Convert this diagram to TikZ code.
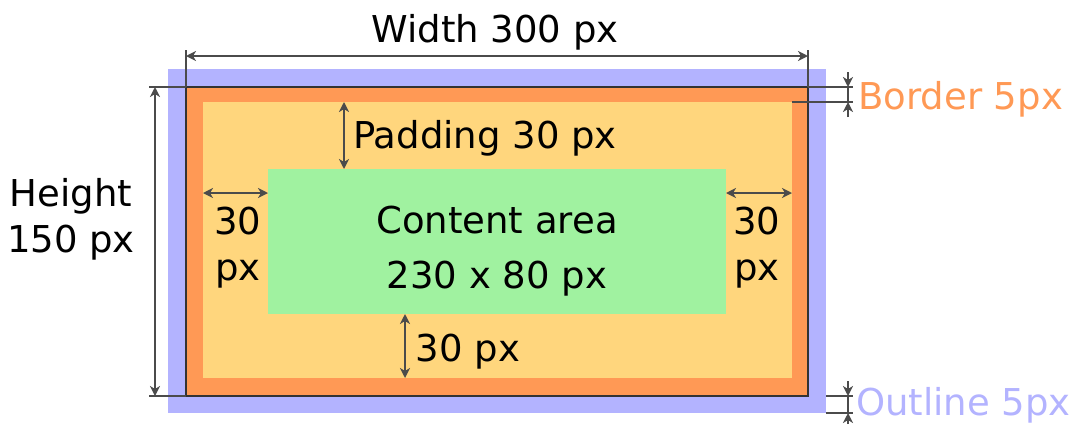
\documentclass[tikz,border=0pt]{standalone}
\usepackage{fontspec}
\setmainfont{DejaVu Sans}
\usetikzlibrary{arrows.meta}

\definecolor{outlineblue}{RGB}{179,179,255}
\definecolor{borderorange}{RGB}{255,153,85}
\definecolor{paddingyellow}{RGB}{255,214,125}
\definecolor{contentgreen}{RGB}{160,242,160}
\definecolor{dimgray}{RGB}{75,75,75}

\tikzset{
  boxarea/.style={draw=none, inner sep=0pt, outer sep=0pt},
  dimline/.style={draw=dimgray, line width=1.8pt},
  dimarrow/.style={dimline, {Stealth[length=10pt,width=10pt,inset=3pt]}-{Stealth[length=10pt,width=10pt,inset=3pt]}},
  onetip/.style={dimline, -{Stealth[length=10pt,width=10pt,inset=3pt]}},
  dimtext/.style={font=\fontsize{37}{46}\selectfont, inner sep=0pt}
}

\begin{document}
\begin{tikzpicture}[x=1pt, y=-1pt]
  \useasboundingbox (0,0) rectangle (1069,424);

  % Outline
  \node[boxarea, fill=outlineblue, minimum width=658pt, minimum height=344pt] (outline) at (497,241) {};

  % Border
  \node[boxarea, fill=borderorange, minimum width=622pt, minimum height=309pt] (border) at (497,241.5) {};

  % Padding
  \node[boxarea, fill=paddingyellow, minimum width=589pt, minimum height=276pt] (padding) at (497.5,240) {};

  % Content area
  \node[boxarea, fill=contentgreen, minimum width=458pt, minimum height=145pt] (content) at (497,241.5) {};
  \draw[black!80, line width=2pt] (border.south west) rectangle (border.north east);

  % Extension lines
  \coordinate (wl) at (186,50);
  \coordinate (wr) at (808,50);
  \coordinate (hl) at (149,87);
  \coordinate (hb) at (149,396);
  \coordinate (rt) at (853,87);
  \coordinate (ri) at (853,102);
  \coordinate (ob) at (853,396);
  \coordinate (oo) at (853,413);
  \draw[dimline] (wl) -- (border.north west);
  \draw[dimline] (wr) -- (border.north east);
  \draw[dimline] (hl) -- (border.north west);
  \draw[dimline] (hb) -- (border.south west);
  \draw[dimline] (border.north east) -- (rt);
  \draw[dimline] (padding.north east) -- (ri);
  \draw[dimline] (outline.east |- ob) -- (ob);
  \draw[dimline] (outline.south east) -- (oo);

  % Width
  \coordinate (w1) at (186,56);
  \coordinate (w2) at (808,56);
  \draw[dimarrow] (w1) -- (w2);
  \node[dimtext, anchor=base] (wtext) at (495,42) {Width 300 px};

  % Height
  \coordinate (h1) at (155,87);
  \coordinate (h2) at (155,396);
  \draw[dimarrow] (h1) -- (h2);
  \node[dimtext, align=center] (htext) at (71,219) {Height\\150 px};

  % Border 5px
  \coordinate (b0) at (848,72);
  \coordinate (b1) at (848,87);
  \coordinate (b2) at (848,102);
  \coordinate (b3) at (848,117);
  \draw[dimline] (b1) -- (b2);
  \draw[onetip] (b0) -- (b1);
  \draw[onetip] (b3) -- (b2);
  \node[dimtext, anchor=base west, text=borderorange] (btext) at (858,109) {Border 5px};

  % Outline 5px
  \coordinate (o0) at (848,381);
  \coordinate (o1) at (848,396);
  \coordinate (o2) at (848,413);
  \coordinate (o3) at (848,424);
  \draw[dimline] (o1) -- (o2);
  \draw[onetip] (o0) -- (o1);
  \draw[onetip] (o3) -- (o2);
  \node[dimtext, anchor=base west, text=outlineblue] (otext) at (856,415) {Outline 5px};

  % Padding arrows
  \coordinate (pt) at (344,102);
  \coordinate (pb) at (405,378);
  \coordinate (pl) at (203,193);
  \coordinate (pr) at (792,193);
  \draw[dimarrow] (pt) -- (content.north -| pt);
  \draw[dimarrow] (content.south -| pb) -- (pb);
  \draw[dimarrow] (pl) -- (content.west |- pl);
  \draw[dimarrow] (content.east |- pr) -- (pr);
  \node[dimtext, anchor=base] (ptext) at (485,148) {Padding 30 px};
  \node[dimtext, anchor=base] (pbtext) at (468,361) {30 px};
  \node[dimtext, align=center] (pltext) at (238,248) {30\\px};
  \node[dimtext, align=center] (prtext) at (757,248) {30\\px};

  % Content text
  \node[dimtext, align=center, font=\fontsize{37}{55}\selectfont] (ctext) at (497,251) {Content area\\230 x 80 px};

\end{tikzpicture}
\end{document}
